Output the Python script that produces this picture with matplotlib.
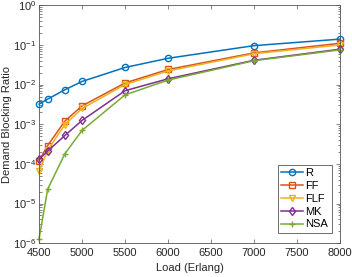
import numpy as np
import matplotlib
matplotlib.use('Agg')
import matplotlib.pyplot as plt

plt.rcParams['font.family'] = 'Liberation Sans'
plt.rcParams['font.size'] = 8
plt.rcParams['xtick.direction'] = 'in'
plt.rcParams['ytick.direction'] = 'in'
plt.rcParams['xtick.top'] = True
plt.rcParams['ytick.right'] = True
plt.rcParams['axes.linewidth'] = 0.6

load = [4500, 4600, 4800, 5000, 5500, 6000, 7000, 8000]
R = [3.2e-3, 4.3e-3, 7.4e-3, 1.2e-2, 2.7e-2, 4.6e-2, 0.096, 0.14]
FF = [1.2e-4, 2.9e-4, 1.2e-3, 2.9e-3, 1.1e-2, 2.4e-2, 0.063, 0.11]
FLF = [6.5e-5, 2.2e-4, 9.8e-4, 2.5e-3, 1.0e-2, 2.2e-2, 0.060, 0.10]
MK = [1.3e-4, 2.1e-4, 5.2e-4, 1.25e-3, 7.0e-3, 1.4e-2, 0.041, 0.078]
NSA = [1.3e-6, 2.3e-5, 1.8e-4, 7.0e-4, 5.5e-3, 1.3e-2, 0.040, 0.075]

fig = plt.figure(figsize=(3.52, 2.77), dpi=100)
ax = fig.add_axes([0.111, 0.122, 0.855, 0.859])

series = [('R', R, 'o', '#0072BD'), ('FF', FF, 's', '#D95319'),
          ('FLF', FLF, 'v', '#EDB120'), ('MK', MK, 'd', '#7E2F8E'),
          ('NSA', NSA, '+', '#77AC30')]
for name, vals, mk, col in series:
    ax.semilogy(load, vals, marker=mk, color=col, lw=1.1, ms=4.5,
                mfc='none', mew=1.0, label=name, clip_on=False)

ax.set_xlim(4500, 8000)
ax.set_ylim(1e-6, 1)
ax.set_xticks(np.arange(4500, 8001, 500))
ax.set_xlabel('Load (Erlang)', color='#262626', labelpad=3.5)
ax.set_ylabel('Demand Blocking Ratio', color='#262626', labelpad=1)
for s in ax.spines.values():
    s.set_color('#555555')
ax.tick_params(which='both', colors='#555555', labelcolor='#262626', length=3, width=0.5)
ax.tick_params(which='minor', length=1.8)
ax.tick_params(axis='x', pad=3.5)
ax.tick_params(axis='y', pad=2)

leg = ax.legend(loc='lower right', bbox_to_anchor=(0.972, 0.044), fancybox=False,
                edgecolor='#555555', framealpha=1, handlelength=2.0,
                handletextpad=0.2, borderpad=0.3, labelspacing=0.25,
                borderaxespad=0, fontsize=8)
leg.get_frame().set_linewidth(0.6)

fig.savefig('out.png', dpi=100)
